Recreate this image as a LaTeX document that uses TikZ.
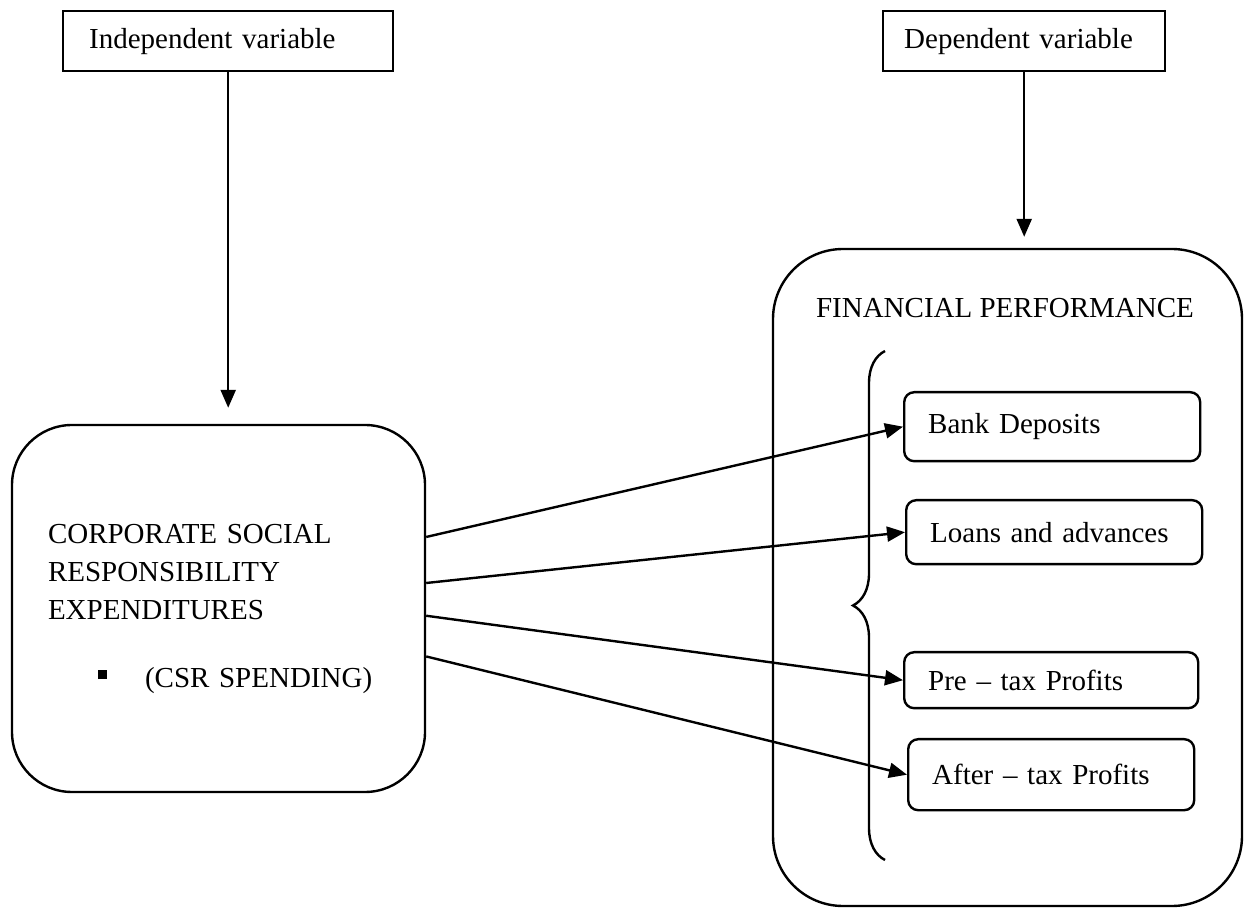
\documentclass[tikz,border=0pt]{standalone}
\usepackage{fontspec}
\setmainfont{Liberation Serif}
\usetikzlibrary{arrows.meta}
\usetikzlibrary{decorations.pathreplacing}
\tikzset {
  box path/.style = {
    draw = black,
    line width = 1.2pt
  },
  % path style with an arrow head at the end
  arr/.style = {
    box path,
    -{Triangle[length = 9pt, width = 7.5pt]}
  },
  % curly brace in front of the indicators
  brc/.style = {
    box path,
    decorate,
    decoration = {brace, amplitude = 16pt}
  }
}
\tikzset {
  box node/.style = {
    draw = black,
    line width = 1.2pt,
    inner ysep = 0pt
  },
  % variable heading
  varbox/.style = {
    box node,
    rectangle,
    align = left,
    anchor = north west,
    minimum height = 30pt
  },
  % large rounded block
  bigbox/.style = {
    box node,
    rectangle,
    rounded corners = 30pt,
    inner xsep = 18pt
  },
  % indicator of the dependent variable
  itembox/.style = {
    box node,
    rectangle,
    rounded corners = 5pt,
    align = left,
    anchor = north west,
    inner xsep = 12pt
  }
}

\begin{document}
\begin{tikzpicture}[x = 0.5pt, y = -0.5pt, font = \fontsize{14.5}{19}\selectfont]
    \useasboundingbox (0,0) rectangle (1248,908);

    \node[varbox, text width = 139pt, inner xsep = 13pt] (indep) at (62,10) {Independent variable};
    \node[varbox, text width = 120pt, inner xsep = 10.5pt] (dep) at (882,10) {Dependent variable};

    \node[bigbox, minimum width = 206.5pt, minimum height = 183.5pt,
      text width = 170.5pt, align = left] (csr) at (218.5,608.5)
      {CORPORATE SOCIAL\\RESPONSIBILITY\\EXPENDITURES\\[15pt]%
       \hspace*{25pt}\rule[4pt]{4.5pt}{4.5pt}\hspace{19pt}(CSR SPENDING)};

    \node[bigbox, rounded corners = 35pt, minimum width = 234.5pt,
      minimum height = 328.5pt] (fin) at (1007.5,577.5) {};
    \node[anchor = base] (fin-title) at (1005,318) {FINANCIAL PERFORMANCE};

    \node[itembox, text width = 124pt, minimum height = 34.5pt] (bank) at (903,391) {Bank Deposits};
    \node[itembox, text width = 124pt, minimum height = 32pt] (loans) at (905,499) {Loans and advances};
    \node[itembox, text width = 123pt, minimum height = 28pt] (pretax) at (903,651) {Pre – tax Profits};
    \node[itembox, text width = 119pt, minimum height = 35.5pt] (aftertax) at (907,738) {After – tax Profits};

    \coordinate (brace-bot) at (885,860);
    \coordinate (brace-top) at (885,351);
    \draw[brc] (brace-bot) -- (brace-top);

    \draw[arr, shorten >= 8pt] (indep) -- (indep |- csr.north);
    \draw[arr, shorten >= 5.5pt] (dep) -- (dep |- fin.north);

    \draw[arr] (csr.19) -- (bank.west);
    \draw[arr] (csr.7) -- (loans.west);
    \draw[arr] (csr.-2) -- (pretax.west);
    \draw[arr] (csr.-13) -- (aftertax.west);
  \end{tikzpicture}
\end{document}
